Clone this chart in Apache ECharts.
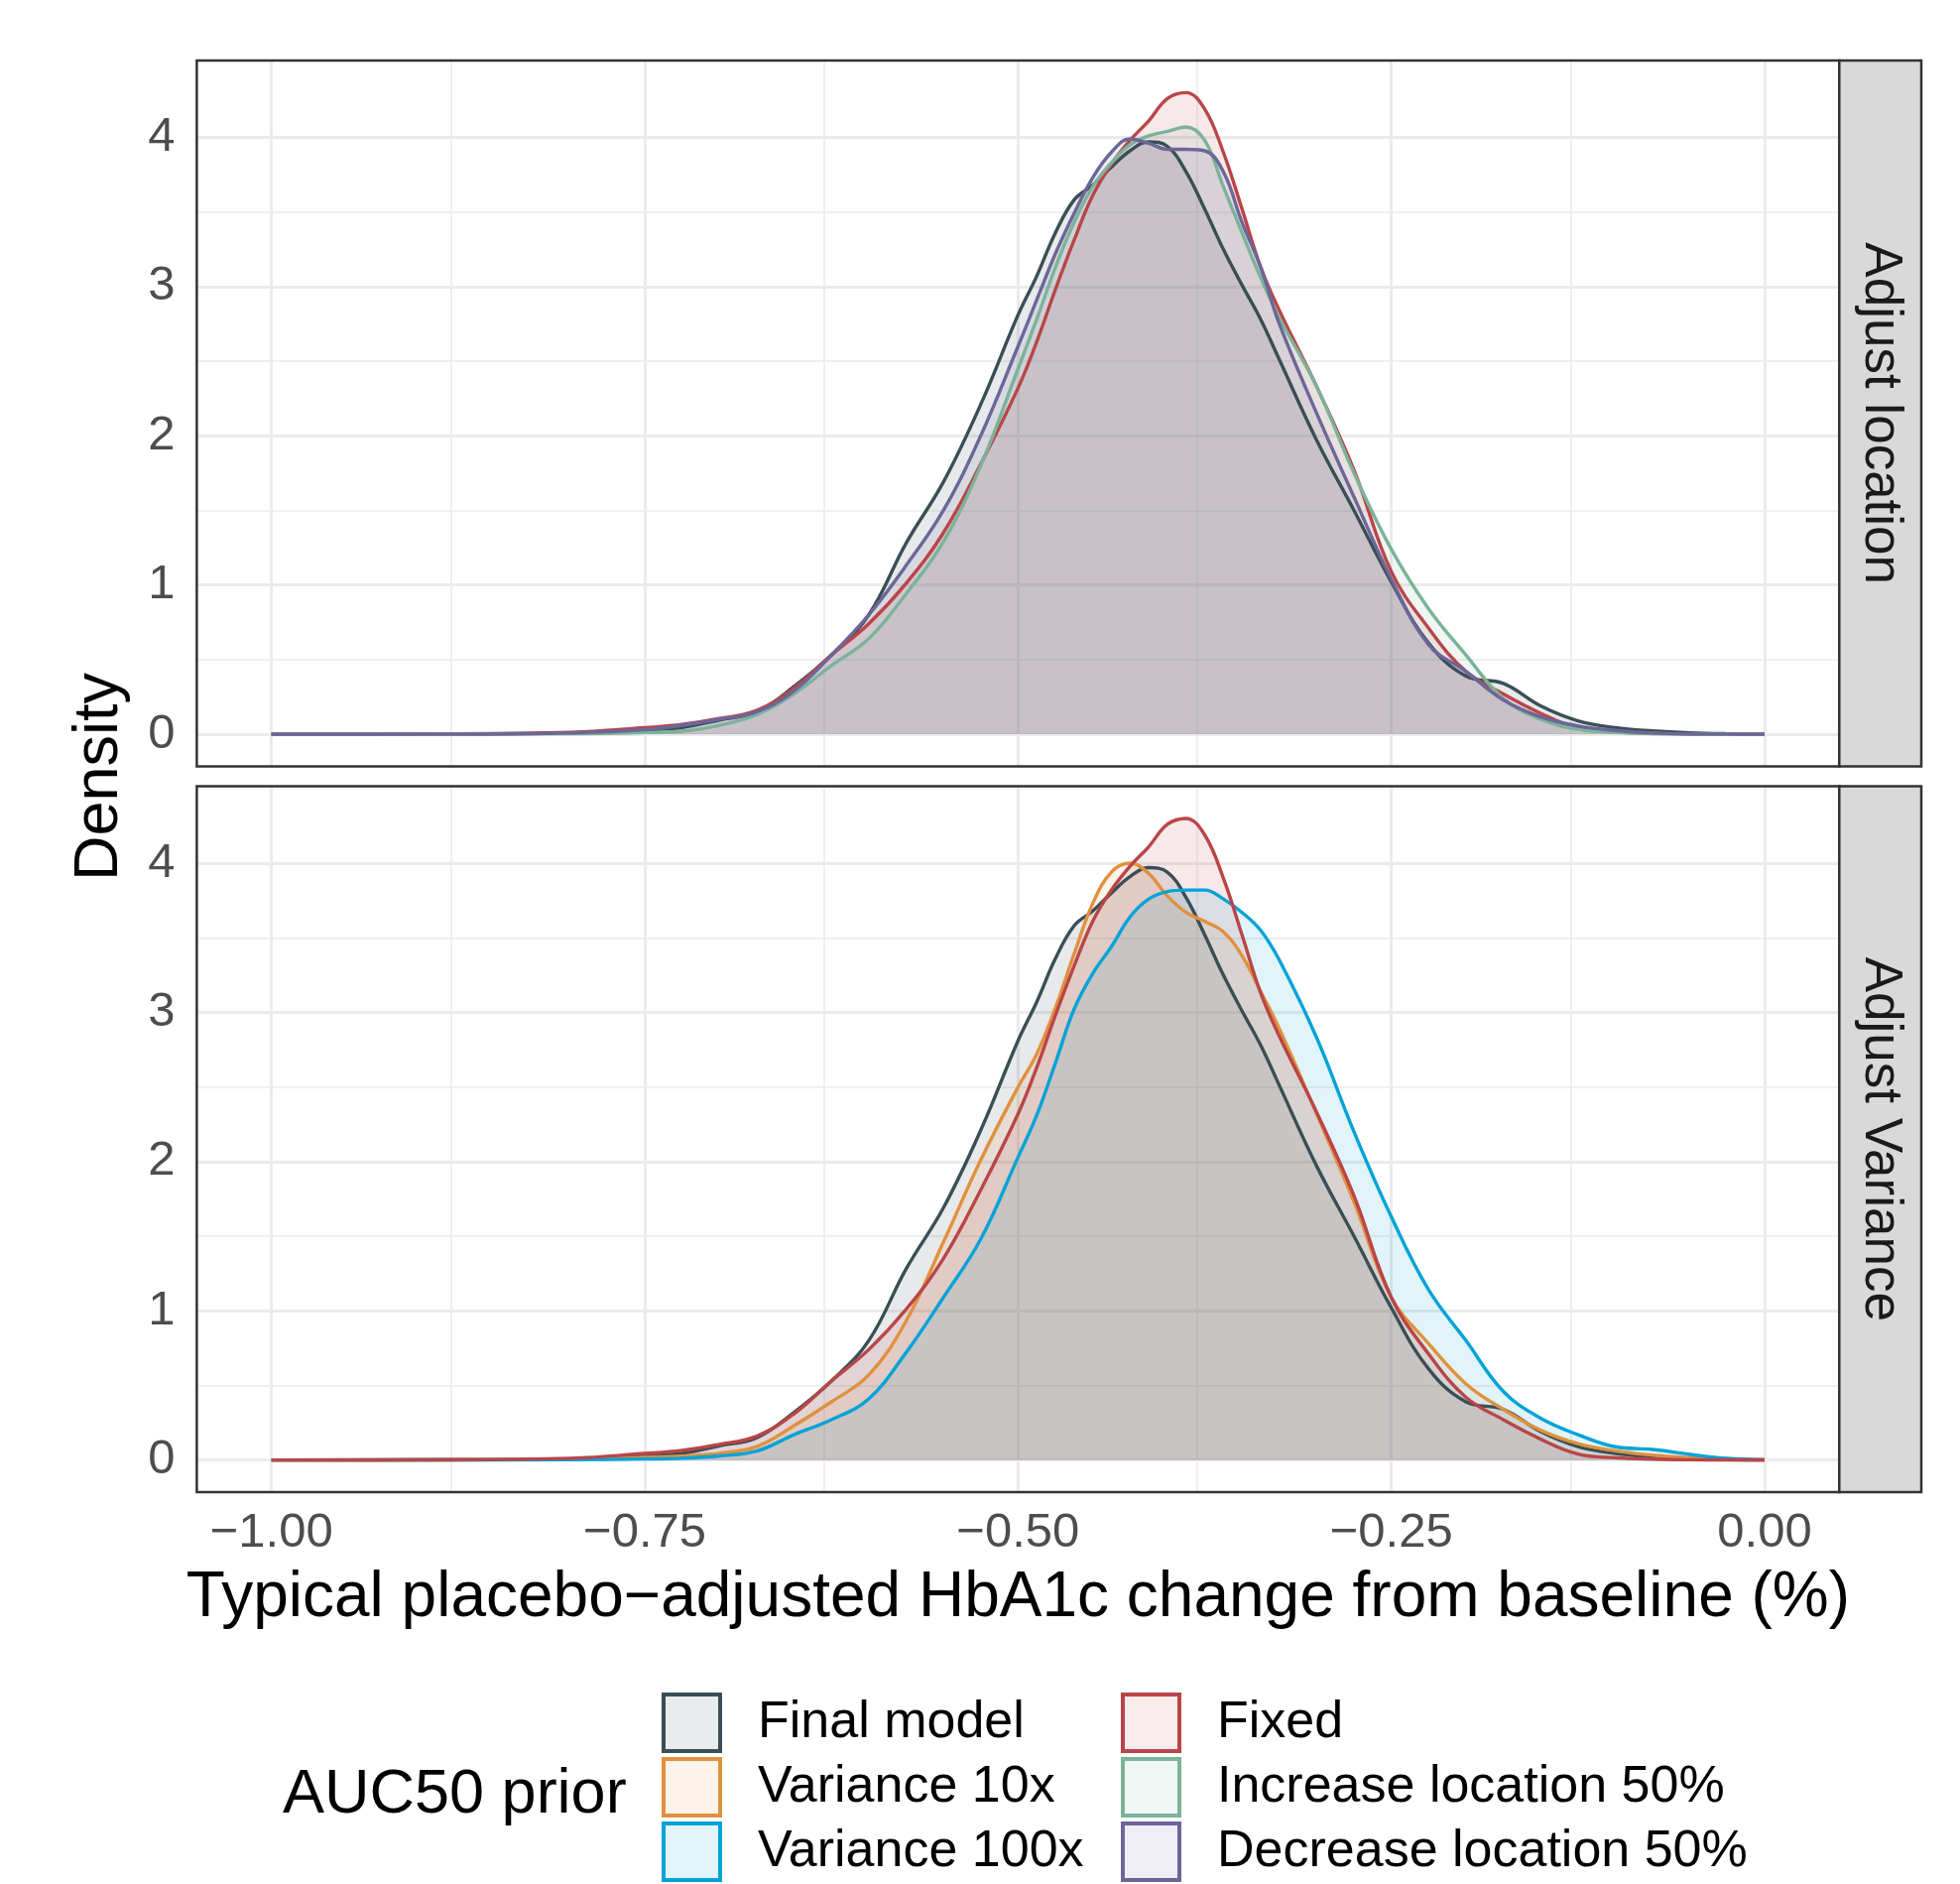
<!DOCTYPE html>
<html>
<head>
<meta charset="utf-8">
<script src="https://cdn.jsdelivr.net/npm/echarts@6/dist/echarts.min.js"></script>
<style>html,body{margin:0;padding:0;background:#fff;}#chart{width:1976px;height:1899px;}</style>
</head>
<body>
<div id="chart"></div>
<script>
// ---- data ----
const xGrid = [-1.0, -0.9, -0.8, -0.75, -0.725, -0.7, -0.675, -0.65, -0.625, -0.6, -0.575, -0.55, -0.525, -0.5, -0.4875, -0.475, -0.4625, -0.45, -0.4375, -0.425, -0.4125, -0.4, -0.3875, -0.375, -0.3625, -0.35, -0.3375, -0.325, -0.3, -0.275, -0.25, -0.225, -0.2, -0.175, -0.15, -0.125, -0.1, -0.075, -0.05, -0.025, 0];
const finalModel = [0, 0.001, 0.006, 0.027, 0.045, 0.095, 0.15, 0.32, 0.53, 0.80, 1.28, 1.69, 2.21, 2.81, 3.07, 3.36, 3.58, 3.68, 3.80, 3.91, 3.97, 3.94, 3.77, 3.52, 3.25, 3.01, 2.78, 2.51, 1.97, 1.50, 1.02, 0.61, 0.39, 0.34, 0.19, 0.09, 0.044, 0.022, 0.009, 0.003, 0.001];
const fixedPrior = [0, 0.002, 0.012, 0.044, 0.065, 0.105, 0.16, 0.31, 0.53, 0.74, 1.01, 1.35, 1.81, 2.32, 2.63, 2.98, 3.31, 3.61, 3.82, 3.98, 4.11, 4.26, 4.30, 4.19, 3.90, 3.52, 3.13, 2.84, 2.33, 1.77, 1.09, 0.71, 0.42, 0.27, 0.14, 0.04, 0.015, 0.006, 0.002, 0.001, 0];
const increaseLoc = [0, 0.001, 0.003, 0.011, 0.02, 0.06, 0.13, 0.27, 0.46, 0.64, 0.94, 1.29, 1.80, 2.45, 2.78, 3.13, 3.43, 3.67, 3.83, 3.95, 4.01, 4.04, 4.07, 3.98, 3.67, 3.36, 3.06, 2.79, 2.33, 1.75, 1.24, 0.84, 0.53, 0.24, 0.10, 0.033, 0.012, 0.004, 0.001, 0, 0];
const decreaseLoc = [0, 0.001, 0.008, 0.03, 0.06, 0.10, 0.15, 0.29, 0.53, 0.80, 1.13, 1.50, 2.00, 2.60, 2.91, 3.22, 3.49, 3.73, 3.90, 3.99, 3.96, 3.92, 3.92, 3.91, 3.77, 3.43, 3.13, 2.75, 2.15, 1.59, 1.04, 0.60, 0.42, 0.23, 0.116, 0.056, 0.025, 0.008, 0.002, 0.001, 0];
const variance10x = [0, 0.001, 0.005, 0.018, 0.027, 0.045, 0.09, 0.23, 0.39, 0.57, 0.93, 1.46, 2.01, 2.50, 2.72, 3.03, 3.39, 3.73, 3.94, 4.00, 3.93, 3.78, 3.67, 3.61, 3.54, 3.38, 3.14, 2.89, 2.32, 1.73, 1.09, 0.78, 0.51, 0.34, 0.20, 0.11, 0.062, 0.033, 0.016, 0.005, 0.001];
const variance100x = [0, 0.001, 0.002, 0.007, 0.012, 0.028, 0.06, 0.17, 0.27, 0.41, 0.72, 1.09, 1.48, 2.03, 2.31, 2.66, 3.02, 3.26, 3.44, 3.64, 3.76, 3.81, 3.82, 3.82, 3.76, 3.67, 3.55, 3.35, 2.83, 2.20, 1.63, 1.14, 0.80, 0.46, 0.28, 0.17, 0.089, 0.071, 0.038, 0.011, 0.002];

const seriesNames = ['Final model', 'Variance 10x', 'Variance 100x', 'Fixed', 'Increase location 50%', 'Decrease location 50%'];
const seriesColors = ['#3A4E55', '#E0913F', '#00A3D7', '#BA4548', '#7BB39A', '#6C6699'];
const panelNames = ['Adjust location', 'Adjust Variance'];
const xTicks = [-1, -0.75, -0.5, -0.25, 0];
const xMinor = [-0.875, -0.625, -0.375, -0.125];
const yTicks = [0, 1, 2, 3, 4];
const yMinor = [0.5, 1.5, 2.5, 3.5];

// panel membership
const panelSeries = [
  [['Final model', finalModel], ['Fixed', fixedPrior], ['Increase location 50%', increaseLoc], ['Decrease location 50%', decreaseLoc]],
  [['Final model', finalModel], ['Variance 10x', variance10x], ['Variance 100x', variance100x], ['Fixed', fixedPrior]]
];

// ---- layout ----
const FONT = '"Liberation Sans", Arial, Helvetica, sans-serif';
const P = {left: 198.4, width: 1655.9, height: 711.4, tops: [61, 792.6], stripW: 82.7};
const X_MIN = -1.05, X_MAX = 0.05, Y_MIN = -0.215, Y_MAX = 4.515;

function rgba(hex, a) {
  const n = parseInt(hex.slice(1), 16);
  return 'rgba(' + ((n >> 16) & 255) + ',' + ((n >> 8) & 255) + ',' + (n & 255) + ',' + a + ')';
}
const colorOf = name => seriesColors[seriesNames.indexOf(name)];
const ALPHA = 0.12;

const grids = [], xAxes = [], yAxes = [], series = [], graphics = [];
panelNames.forEach((pn, pi) => {
  const top = P.tops[pi];
  grids.push({left: P.left, top: top, width: P.width, height: P.height, containLabel: false, show: false});
  const isBottom = pi === panelNames.length - 1;
  xAxes.push({
    type: 'value', gridIndex: pi, min: X_MIN, max: X_MAX,
    axisLine: {show: false},
    axisTick: {show: isBottom, length: 10, lineStyle: {color: '#333333', width: 2.5}, customValues: xTicks},
    axisLabel: {show: isBottom, customValues: xTicks, margin: 17, fontSize: 49, color: '#4D4D4D', fontFamily: FONT,
      formatter: v => (v < 0 ? '\u2212' : '') + Math.abs(v).toFixed(2)},
    splitLine: {show: false}
  });
  yAxes.push({
    type: 'value', gridIndex: pi, min: Y_MIN, max: Y_MAX,
    axisLine: {show: false},
    axisTick: {show: true, length: 10, lineStyle: {color: '#333333', width: 2.5}, customValues: yTicks},
    axisLabel: {customValues: yTicks, margin: 22, fontSize: 49, color: '#4D4D4D', fontFamily: FONT, padding: [6, 0, 0, 0]},
    splitLine: {show: false}
  });
  // grid lines through the axes' own scales
  const gl = [];
  yMinor.forEach(v => gl.push({yAxis: v, lineStyle: {width: 1.6}}));
  xMinor.forEach(v => gl.push({xAxis: v, lineStyle: {width: 1.6}}));
  yTicks.forEach(v => gl.push({yAxis: v, lineStyle: {width: 3}}));
  xTicks.forEach(v => gl.push({xAxis: v, lineStyle: {width: 3}}));
  series.push({
    type: 'line', name: '__grid' + pi, xAxisIndex: pi, yAxisIndex: pi, data: [], silent: true, z: 1,
    markLine: {silent: true, z: 1, animation: false, symbol: ['none', 'none'], label: {show: false},
      emphasis: {disabled: true}, lineStyle: {color: '#EBEBEB', type: 'solid'}, data: gl}
  });
  panelSeries[pi].forEach(([name, ys]) => {
    const c = colorOf(name);
    series.push({
      type: 'line', name: name, xAxisIndex: pi, yAxisIndex: pi,
      data: xGrid.map((x, i) => [x, ys[i]]),
      showSymbol: false, symbol: 'none', smooth: 0.4,
      lineStyle: {color: c, width: 3.4}, itemStyle: {color: c},
      areaStyle: {color: rgba(c, ALPHA), opacity: 1, origin: 'auto'},
      emphasis: {disabled: true}, z: 2
    });
  });
  // panel border + strip
  graphics.push({type: 'rect', z: 100, silent: true,
    shape: {x: P.left, y: top, width: P.width, height: P.height},
    style: {fill: 'none', stroke: '#333333', lineWidth: 2.5}});
  graphics.push({type: 'rect', z: 100, silent: true,
    shape: {x: P.left + P.width, y: top, width: P.stripW, height: P.height},
    style: {fill: '#D9D9D9', stroke: '#333333', lineWidth: 2.5}});
  graphics.push({type: 'text', z: 101, silent: true,
    x: P.left + P.width + P.stripW / 2, y: top + P.height / 2, rotation: -Math.PI / 2,
    style: {text: pn, fontSize: 53, fontFamily: FONT, fill: '#1A1A1A',
      align: 'center', verticalAlign: 'middle', textAlign: 'center', textVerticalAlign: 'middle'}});
});

// axis titles and legend title
graphics.push({type: 'text', silent: true, x: 101, y: 783, rotation: Math.PI / 2,
  style: {text: 'Density', fontSize: 63, fontFamily: FONT, fill: '#000',
    align: 'center', verticalAlign: 'middle', textAlign: 'center', textVerticalAlign: 'middle'}});
graphics.push({type: 'text', silent: true, x: P.left + P.width / 2, y: 1611,
  style: {text: 'Typical placebo\u2212adjusted HbA1c change from baseline (%)', fontSize: 64, fontFamily: FONT, fill: '#000',
    align: 'center', verticalAlign: 'middle', textAlign: 'center', textVerticalAlign: 'middle'}});
graphics.push({type: 'text', silent: true, x: 285, y: 1810,
  style: {text: 'AUC50 prior', fontSize: 63, fontFamily: FONT, fill: '#000',
    align: 'left', verticalAlign: 'middle', textAlign: 'left', textVerticalAlign: 'middle'}});

function legendItem(name) {
  const c = colorOf(name);
  return {name: name, icon: 'rect', itemStyle: {color: rgba(c, 0.11), borderColor: c, borderWidth: 4}};
}
const legendCommon = {orient: 'vertical', itemWidth: 57, itemHeight: 57, itemGap: 4, padding: 0,
  height: 260, width: 700, selectedMode: false, icon: 'rect',
  textStyle: {fontSize: 52, lineHeight: 44, color: '#000', fontFamily: FONT, padding: [17, 0, 0, 33]}};

const option = {
  animation: false,
  backgroundColor: '#ffffff',
  grid: grids,
  xAxis: xAxes,
  yAxis: yAxes,
  legend: [
    Object.assign({}, legendCommon, {left: 667, top: 1706,
      data: ['Final model', 'Variance 10x', 'Variance 100x'].map(legendItem)}),
    Object.assign({}, legendCommon, {left: 1130, top: 1706,
      data: ['Fixed', 'Increase location 50%', 'Decrease location 50%'].map(legendItem)})
  ],
  graphic: graphics,
  series: series
};
const chart = echarts.init(document.getElementById('chart'), null, {renderer: 'canvas'});
chart.setOption(option);
</script>
</body>
</html>
